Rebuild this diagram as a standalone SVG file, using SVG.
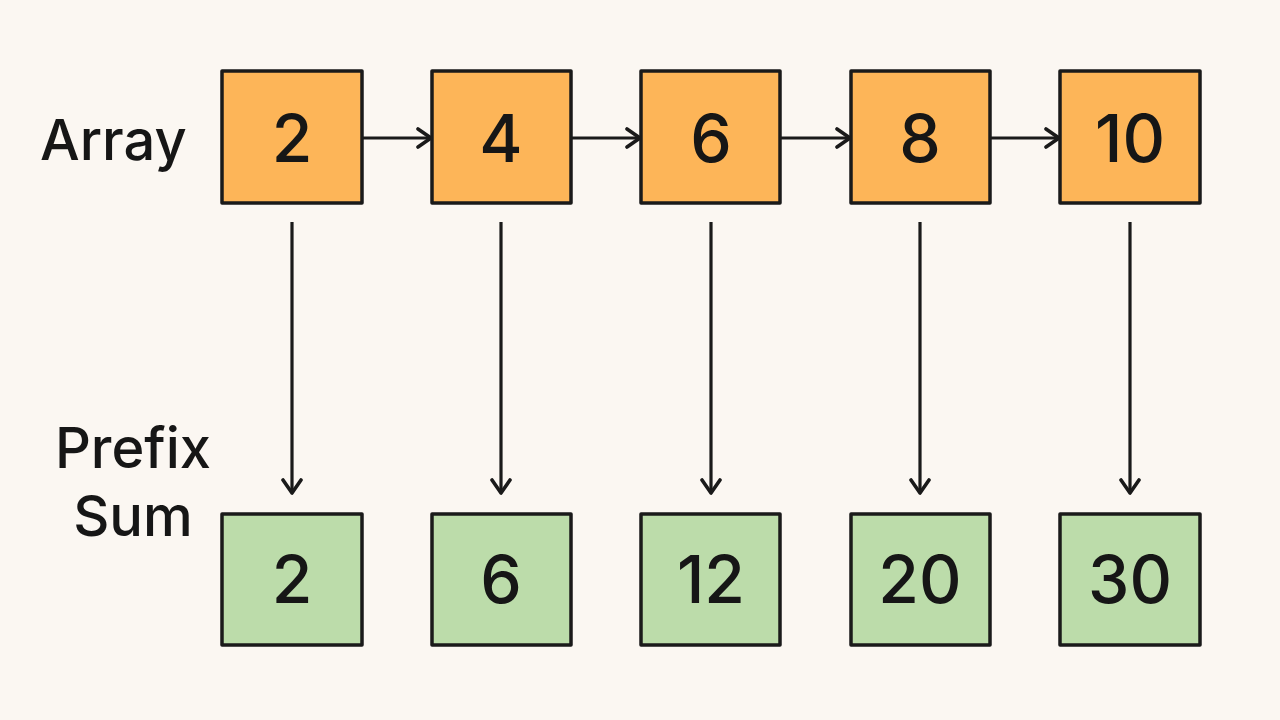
<svg xmlns="http://www.w3.org/2000/svg" width="1280" height="720" viewBox="0 0 1280 720">
<style>
.box{stroke:#1a1a1a;stroke-width:3.5;stroke-linejoin:round}
.arr{fill:#fdb558}
.sum{fill:#bcdcaa}
.num{font-family:Inter,"Liberation Sans",sans-serif;font-size:66px;font-weight:500;fill:#161616;text-anchor:middle}
.lbl{font-family:Inter,"Liberation Sans",sans-serif;font-size:56px;fill:#161616;font-weight:500}
.conn{stroke:#1a1a1a;stroke-width:3.2;fill:none;marker-end:url(#head)}
</style>
<defs>
<marker id="head" viewBox="0 0 24 24" refX="22" refY="12" markerWidth="24" markerHeight="24" markerUnits="userSpaceOnUse" orient="auto">
<path d="M9,3 L22,12 L9,21" fill="none" stroke="#1a1a1a" stroke-width="3.6" stroke-linecap="round" stroke-linejoin="round"/>
</marker>
</defs>
<rect width="1280" height="720" fill="#fbf7f2"/>
<text class="lbl" x="40" y="160">Array</text>
<text class="lbl" x="133" y="468" text-anchor="middle">Prefix</text>
<text class="lbl" x="133" y="536" text-anchor="middle">Sum</text>
<g id="connectors">
<line class="conn" x1="362" y1="138" x2="431" y2="138"/>
<line class="conn" x1="571" y1="138" x2="640" y2="138"/>
<line class="conn" x1="780" y1="138" x2="850" y2="138"/>
<line class="conn" x1="990" y1="138" x2="1059" y2="138"/>
<line class="conn" x1="292" y1="222" x2="292" y2="493"/>
<line class="conn" x1="501" y1="222" x2="501" y2="493"/>
<line class="conn" x1="711" y1="222" x2="711" y2="493"/>
<line class="conn" x1="920" y1="222" x2="920" y2="493"/>
<line class="conn" x1="1130" y1="222" x2="1130" y2="493"/>
</g>
<g id="a1"><rect class="box arr" x="222" y="71" width="140" height="132"/><text class="num" x="292" y="162">2</text></g>
<g id="a2"><rect class="box arr" x="432" y="71" width="139" height="132"/><text class="num" x="501" y="162">4</text></g>
<g id="a3"><rect class="box arr" x="641" y="71" width="139" height="132"/><text class="num" x="711" y="162">6</text></g>
<g id="a4"><rect class="box arr" x="851" y="71" width="139" height="132"/><text class="num" x="920" y="162">8</text></g>
<g id="a5"><rect class="box arr" x="1060" y="71" width="140" height="132"/><text class="num" x="1130" y="162">10</text></g>
<g id="s1"><rect class="box sum" x="222" y="514" width="140" height="131"/><text class="num" x="292" y="603">2</text></g>
<g id="s2"><rect class="box sum" x="432" y="514" width="139" height="131"/><text class="num" x="501" y="603">6</text></g>
<g id="s3"><rect class="box sum" x="641" y="514" width="139" height="131"/><text class="num" x="711" y="603">12</text></g>
<g id="s4"><rect class="box sum" x="851" y="514" width="139" height="131"/><text class="num" x="920" y="603">20</text></g>
<g id="s5"><rect class="box sum" x="1060" y="514" width="140" height="131"/><text class="num" x="1130" y="603">30</text></g>
</svg>
